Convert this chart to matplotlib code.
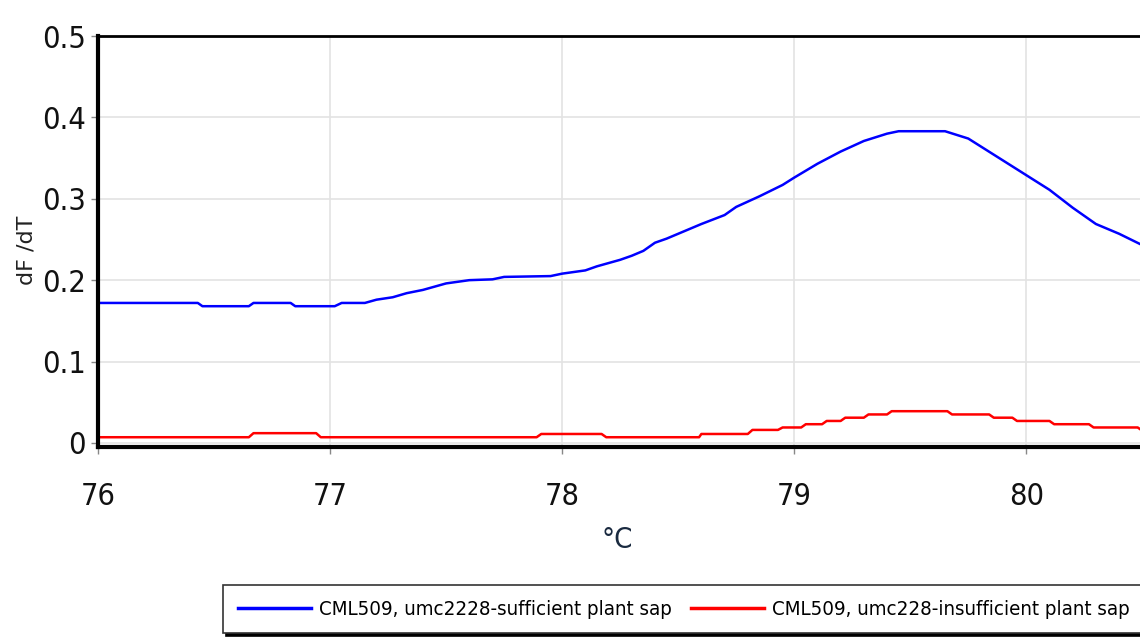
import matplotlib
matplotlib.use("Agg")
import matplotlib.pyplot as plt
from matplotlib.font_manager import FontProperties

# melt curve derivative, dF/dT against temperature
temp_suff = [76.0, 76.43, 76.45, 76.65, 76.67, 76.83, 76.85, 77.02, 77.05, 77.15,
             77.2, 77.27, 77.33, 77.4, 77.45, 77.5, 77.6, 77.7, 77.75, 77.95,
             78.0, 78.1, 78.15, 78.2, 78.25, 78.3, 78.35, 78.4, 78.45, 78.5,
             78.55, 78.6, 78.7, 78.75, 78.85, 78.95, 79.0, 79.1, 79.2, 79.3,
             79.4, 79.45, 79.65, 79.75, 79.85, 79.95, 80.0, 80.1, 80.2, 80.3,
             80.4, 80.5]
dfdt_suff = [0.172, 0.172, 0.168, 0.168, 0.172, 0.172, 0.168, 0.168, 0.172, 0.172,
             0.176, 0.179, 0.184, 0.188, 0.192, 0.196, 0.200, 0.201, 0.204, 0.205,
             0.208, 0.212, 0.217, 0.221, 0.225, 0.230, 0.236, 0.246, 0.251, 0.257,
             0.263, 0.269, 0.280, 0.290, 0.303, 0.317, 0.326, 0.343, 0.358, 0.371,
             0.380, 0.383, 0.383, 0.374, 0.356, 0.338, 0.329, 0.311, 0.289, 0.269,
             0.257, 0.243]

temp_insuff = [76.0, 76.65, 76.67, 76.94, 76.96, 77.89, 77.91, 78.17, 78.19, 78.59,
               78.6, 78.8, 78.82, 78.93, 78.95, 79.03, 79.05, 79.12, 79.14, 79.2,
               79.22, 79.3, 79.32, 79.4, 79.42, 79.66, 79.68, 79.84, 79.86, 79.94,
               79.96, 80.1, 80.12, 80.27, 80.29, 80.48, 80.5]
dfdt_insuff = [0.007, 0.007, 0.012, 0.012, 0.007, 0.007, 0.011, 0.011, 0.007, 0.007,
               0.011, 0.011, 0.016, 0.016, 0.019, 0.019, 0.023, 0.023, 0.027, 0.027,
               0.031, 0.031, 0.035, 0.035, 0.039, 0.039, 0.035, 0.035, 0.031, 0.031,
               0.027, 0.027, 0.023, 0.023, 0.019, 0.019, 0.015]

labels = ["CML509, umc2228-sufficient plant sap",
          "CML509, umc228-insufficient plant sap"]
x_ticks = [76, 77, 78, 79, 80]
y_ticks = [0, 0.1, 0.2, 0.3, 0.4, 0.5]


def narrow(size):
    return FontProperties(family="DejaVu Sans", stretch="condensed", size=size)


fig = plt.figure(figsize=(11.4, 6.37), dpi=100)
ax = fig.add_axes([98 / 1140, 1 - 447 / 637, 1 - 98 / 1140, (447 - 36) / 637])

ax.plot(temp_suff, dfdt_suff, color="#0000ff", lw=1.8, label=labels[0])
ax.plot(temp_insuff, dfdt_insuff, color="#ff0000", lw=1.8, label=labels[1])

ax.set_xlim(76, 80.49)
ax.set_ylim(-0.005, 0.5)
ax.set_xticks(x_ticks)
ax.set_yticks(y_ticks)
ax.set_yticklabels(["0", "0.1", "0.2", "0.3", "0.4", "0.5"])
ax.grid(True, color="#e3e3e3", lw=1.2)
ax.set_axisbelow(True)

for side in ["left", "bottom"]:
    ax.spines[side].set_linewidth(3)
ax.spines["top"].set_linewidth(2)
ax.spines["right"].set_visible(False)
ax.tick_params(axis="both", color="#888888", length=5, width=1,
               labelcolor="#111111")
ax.tick_params(axis="x", pad=20)
ax.tick_params(axis="y", pad=4)
for t in ax.get_xticklabels() + ax.get_yticklabels():
    t.set_fontproperties(narrow(22))

fig.text(27 / 1140, 1 - 250 / 637, "dF /dT", rotation=90, ha="center",
         va="center", fontsize=16, family="DejaVu Sans", color="#222222")
fig.text(617 / 1140, 1 - 540 / 637, "°C", ha="center", va="center",
         fontproperties=narrow(21), color="#1a2a40")

leg = fig.legend(loc="upper left", bbox_to_anchor=(223 / 1140, 1 - 585 / 637),
                 ncol=2, prop=narrow(14.7),
                 frameon=True, fancybox=False, shadow={"color": "black", "alpha": 1},
                 edgecolor="#333333", handlelength=3.6, handletextpad=0.4,
                 columnspacing=0.9, borderpad=0.72, borderaxespad=0)
leg.get_frame().set_linewidth(1.2)
for line in leg.get_lines():
    line.set_linewidth(2.5)

fig.savefig("out.png", dpi=100)
